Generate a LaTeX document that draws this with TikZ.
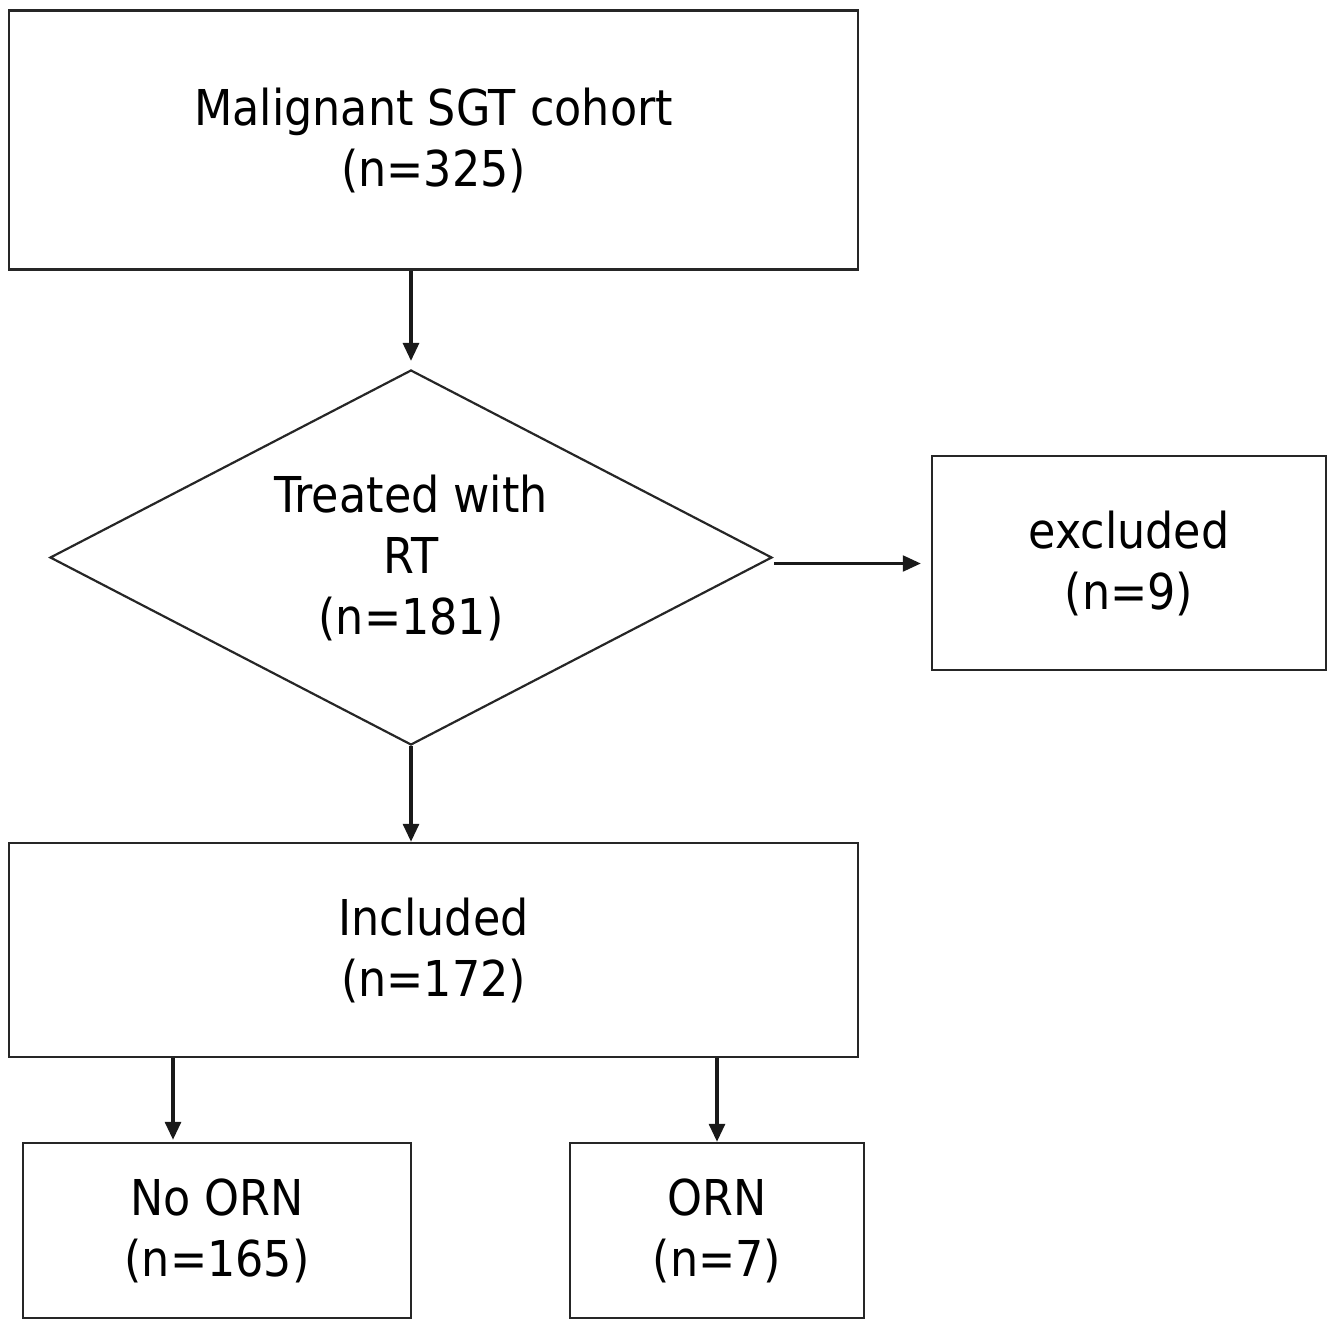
\documentclass[tikz,border=0pt]{standalone}
\usepackage{fontspec}
\setmainfont{DejaVu Sans}[FakeStretch=0.9]
\usetikzlibrary{shapes.geometric,arrows.meta}
\begin{document}
\begin{tikzpicture}[x=1pt,y=-1pt,
  every node/.style={font=\fontsize{49.4}{61}\selectfont, align=center, text=black},
  boxnode/.style={draw=black!85, line width=2.5pt, rectangle, inner sep=0pt},
  decision/.style={draw=black!85, line width=2.2pt, diamond, aspect=1.925, inner sep=0pt, minimum width=722pt, minimum height=375pt},
  varrow/.style={draw=black!90, line width=3.2pt, -{Triangle[length=18pt,width=16pt]}},
  harrow/.style={draw=black!90, line width=2.4pt, -{Triangle[length=18pt,width=16pt]}}]
\useasboundingbox (0,0) rectangle (1336,1320);
\node[boxnode, minimum width=849pt, minimum height=259pt] (top) at (433.5,140) {Malignant SGT cohort\\(n=325)};
\node[decision] (dia) at (411,557.5) {Treated with\\RT\\(n=181)};
\node[boxnode, minimum width=394pt, minimum height=214pt] (excl) at (1129,563) {excluded\\(n=9)};
\node[boxnode, minimum width=849pt, minimum height=214pt] (incl) at (433.5,950) {Included\\(n=172)};
\node[boxnode, minimum width=388pt, minimum height=175pt] (noorn) at (217,1230.5) {No ORN\\(n=165)};
\node[boxnode, minimum width=294pt, minimum height=175pt] (orn) at (717,1230.5) {ORN\\(n=7)};
\coordinate (noornin) at ([xshift=-44pt]noorn.north);
\draw[varrow, shorten >=8pt] (dia.north |- top.south) -- (dia.north);
\draw[harrow, shorten <=1pt, shorten >=10pt] ([yshift=-6pt]dia.east) -- ([yshift=-6pt]dia.east -| excl.west);
\draw[varrow] (dia.south) -- (dia.south |- incl.north);
\draw[varrow, shorten >=2pt] (incl.south -| noornin) -- (noornin);
\draw[varrow] (incl.south -| orn.north) -- (orn.north);
\end{tikzpicture}
\end{document}
